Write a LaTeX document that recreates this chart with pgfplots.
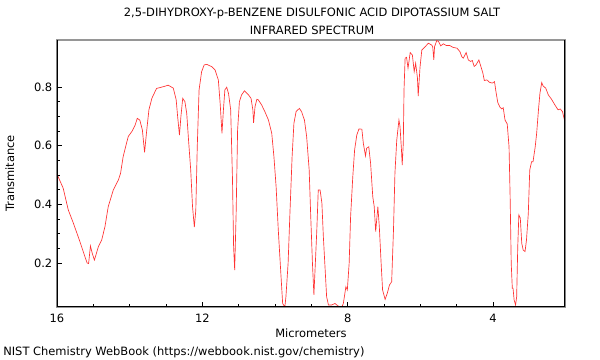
\documentclass[border=0pt]{standalone}
\usepackage{fontspec}
\setmainfont{DejaVu Sans}
\usepackage{pgfplots}
\pgfplotsset{compat=1.18}
\definecolor{spec}{RGB}{255,50,50}
\definecolor{frame}{RGB}{150,150,150}
\begin{document}
\begin{tikzpicture}[x=0.75pt,y=0.75pt]
\path (0,0) rectangle (600,360);
\begin{axis}[
  at={(42.75pt,39.75pt)}, anchor=south west,
  scale only axis, width=381pt, height=200.25pt,
  x dir=reverse,
  xmin=2.02, xmax=16, ymin=0.05, ymax=0.96,
  xtick={4,8,12,16}, minor x tick num=3,
  ytick={0.2,0.4,0.6,0.8}, minor y tick num=3,
  xtick pos=bottom, ytick pos=left,
  tick align=inside,
  major tick length=4pt, minor tick length=2.2pt,
  tick style={black, line width=0.5pt},
  axis line style={frame, line width=0.8pt},
  tick label style={font=\fontsize{8.6}{9.6}\selectfont},
  xticklabel style={yshift=-1.5pt},
  /pgf/number format/assume math mode=true,
  yticklabel style={/pgf/number format/fixed, /pgf/number format/precision=1, /pgf/number format/fixed zerofill},
  xlabel={Micrometers}, ylabel={Transmitance},
  label style={font=\fontsize{8.6}{9.6}\selectfont},
  xlabel style={yshift=2pt},
  ylabel style={yshift=8pt},
  clip=true,
]
\addplot[spec, line width=0.5pt] table {
16.00 0.503
15.83 0.455
15.69 0.381
15.55 0.336
15.37 0.273
15.23 0.221
15.17 0.200
15.13 0.198
15.08 0.258
15.03 0.233
14.97 0.210
14.86 0.256
14.77 0.278
14.68 0.324
14.59 0.392
14.45 0.449
14.31 0.483
14.25 0.506
14.18 0.562
14.04 0.631
13.94 0.648
13.85 0.670
13.79 0.693
13.72 0.687
13.65 0.653
13.59 0.577
13.53 0.653
13.47 0.722
13.39 0.761
13.26 0.795
13.07 0.801
12.94 0.806
12.80 0.796
12.72 0.756
12.68 0.699
12.63 0.636
12.59 0.699
12.54 0.761
12.48 0.750
12.43 0.710
12.38 0.619
12.32 0.517
12.27 0.392
12.22 0.322
12.18 0.381
12.14 0.596
12.09 0.790
12.02 0.852
11.95 0.875
11.88 0.877
11.74 0.869
11.65 0.858
11.56 0.824
11.51 0.744
11.46 0.642
11.42 0.722
11.38 0.790
11.33 0.799
11.28 0.778
11.22 0.722
11.17 0.483
11.14 0.256
11.11 0.176
11.07 0.370
11.03 0.653
10.98 0.750
10.92 0.773
10.84 0.787
10.73 0.773
10.66 0.761
10.61 0.722
10.59 0.678
10.55 0.733
10.50 0.758
10.46 0.756
10.37 0.739
10.28 0.716
10.18 0.687
10.09 0.642
10.03 0.562
9.97 0.460
9.91 0.312
9.84 0.165
9.79 0.062
9.73 0.050
9.70 0.085
9.64 0.199
9.59 0.369
9.53 0.562
9.48 0.676
9.42 0.716
9.33 0.727
9.27 0.716
9.19 0.687
9.13 0.631
9.06 0.517
9.02 0.369
8.97 0.199
8.93 0.091
8.89 0.200
8.85 0.312
8.81 0.449
8.76 0.449
8.71 0.404
8.67 0.290
8.62 0.176
8.58 0.085
8.53 0.057
8.44 0.057
8.35 0.062
8.26 0.053
8.16 0.050
8.12 0.062
8.05 0.119
8.01 0.108
7.96 0.199
7.92 0.358
7.86 0.494
7.81 0.585
7.75 0.636
7.69 0.657
7.61 0.656
7.57 0.608
7.51 0.565
7.48 0.591
7.42 0.596
7.37 0.540
7.31 0.426
7.27 0.392
7.23 0.307
7.17 0.392
7.13 0.324
7.08 0.199
7.04 0.108
6.97 0.076
6.91 0.097
6.85 0.125
6.79 0.136
6.74 0.312
6.70 0.506
6.65 0.619
6.59 0.687
6.56 0.665
6.52 0.585
6.50 0.534
6.47 0.608
6.45 0.790
6.42 0.898
6.38 0.901
6.34 0.864
6.28 0.917
6.22 0.909
6.17 0.852
6.13 0.881
6.08 0.830
6.06 0.769
6.01 0.867
5.96 0.926
5.87 0.937
5.78 0.949
5.69 0.943
5.66 0.937
5.63 0.892
5.61 0.937
5.55 0.958
5.50 0.955
5.44 0.940
5.37 0.947
5.28 0.941
5.19 0.941
5.10 0.935
4.99 0.932
4.91 0.920
4.86 0.903
4.82 0.898
4.74 0.917
4.68 0.892
4.62 0.887
4.57 0.890
4.52 0.870
4.47 0.875
4.39 0.892
4.34 0.872
4.28 0.847
4.24 0.822
4.17 0.824
4.10 0.816
4.02 0.813
3.96 0.818
3.92 0.784
3.87 0.747
3.81 0.731
3.76 0.725
3.72 0.729
3.67 0.687
3.61 0.674
3.56 0.596
3.53 0.426
3.50 0.199
3.47 0.114
3.45 0.114
3.42 0.074
3.38 0.057
3.35 0.085
3.32 0.256
3.29 0.364
3.25 0.353
3.21 0.267
3.17 0.244
3.12 0.239
3.08 0.278
3.03 0.369
2.99 0.517
2.94 0.545
2.90 0.545
2.84 0.596
2.80 0.642
2.75 0.722
2.71 0.778
2.66 0.815
2.62 0.803
2.55 0.796
2.48 0.773
2.39 0.758
2.30 0.739
2.21 0.722
2.15 0.725
2.09 0.716
2.04 0.690
2.02 0.685
};
\draw[black, line width=0.8pt] (rel axis cs:1,1) -- (rel axis cs:1,0) -- (rel axis cs:0,0) -- (rel axis cs:0,1);
\end{axis}
\node[font=\fontsize{8.6}{9.6}\selectfont] at (312,347) {2,5-DIHYDROXY-p-BENZENE DISULFONIC ACID DIPOTASSIUM SALT};
\node[font=\fontsize{8.6}{9.6}\selectfont] at (312,330) {INFRARED SPECTRUM};
\node[font=\fontsize{8.6}{9.6}\selectfont, anchor=west, inner sep=0pt] at (3,8) {NIST Chemistry WebBook (https://webbook.nist.gov/chemistry)};
\end{tikzpicture}
\end{document}
